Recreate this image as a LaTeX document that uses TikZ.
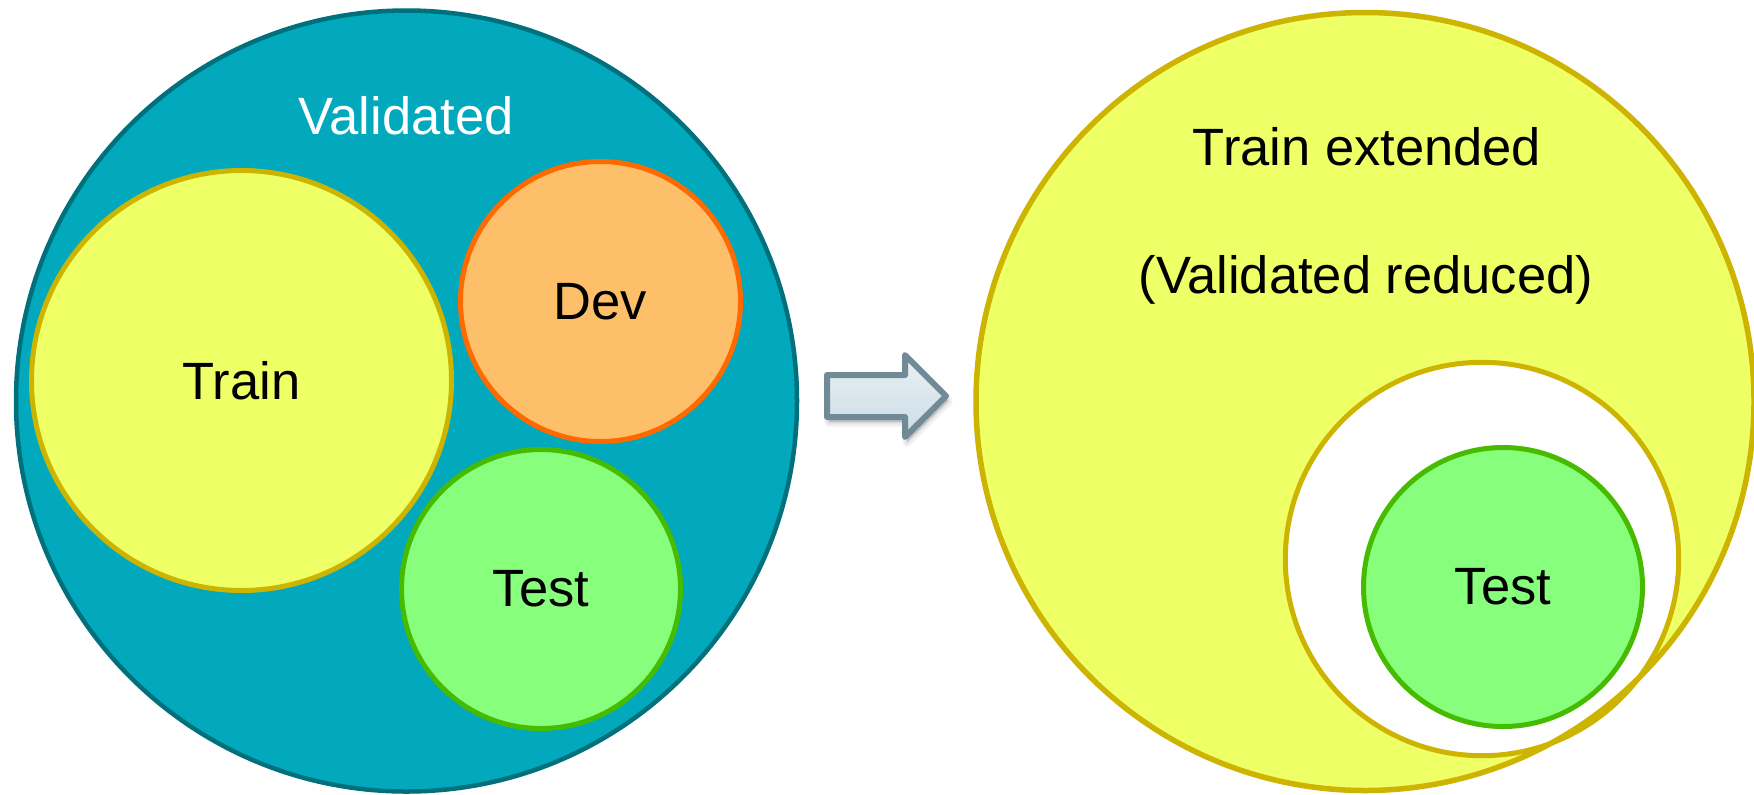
\documentclass[tikz,border=0pt]{standalone}
\usepackage{fontspec}
\setmainfont{Liberation Sans}
\definecolor{tealfill}{RGB}{2,169,189}
\definecolor{tealline}{RGB}{0,112,124}
\definecolor{yelfill}{RGB}{239,255,102}
\definecolor{yelline}{RGB}{205,180,0}
\definecolor{devfill}{RGB}{253,191,105}
\definecolor{devline}{RGB}{255,106,0}
\definecolor{testfill}{RGB}{136,255,124}
\definecolor{testline}{RGB}{70,187,0}
\definecolor{arrline}{RGB}{112,138,150}
\definecolor{arrtop}{RGB}{233,241,245}
\definecolor{arrbot}{RGB}{204,220,228}
\begin{document}
\begin{tikzpicture}[x=0.5pt,y=-0.5pt,
  lbl/.style={font=\fontsize{26.25}{31}\selectfont, text=black},
  disc/.style={circle, inner sep=0pt, outer sep=0pt, lbl},
  yeldisc/.style={disc, fill=yelfill, draw=yelline, line width=2.5pt},
  testdisc/.style={disc, minimum size=139.5pt, fill=testfill, draw=testline, line width=2.5pt},
  arrowshape/.style={line join=round}]
\useasboundingbox (0,0) rectangle (1754,794);
\clip (0,0) rectangle (1754,794);
\fill[white] (0,0) rectangle (1754,794);

% ---- left: Validated set ----
\node[disc, minimum size=390.5pt, fill=tealfill, draw=tealline, line width=2.25pt] (validated) at (406.5,401) {};
\node[lbl, text=white, anchor=base] (validatedlbl) at (406,134) {Validated};
\node[yeldisc, minimum size=210pt] (train) at (241.5,380.5) {Train};
\node[disc, minimum size=140pt, fill=devfill, draw=devline, line width=2.5pt] (dev) at (600.5,301.5) {Dev};
\node[testdisc] (testleft) at (541,589) {Test};

% ---- block arrow ----
\begin{scope}[shift={(2,5)}]
  \foreach \w in {10,7,4,1}
    \filldraw[black, opacity=0.035, line width=\w*0.5pt, arrowshape]
      (827,375) -- (905,375) -- (905,355) -- (946,396) -- (905,437) -- (905,417) -- (827,417) -- cycle;
\end{scope}
\shadedraw[top color=arrtop, bottom color=arrbot, draw=arrline, line width=3pt, arrowshape]
  (827,375) -- (905,375) -- (905,355) -- (946,396) -- (905,437) -- (905,417) -- (827,417) -- cycle;

% ---- right: Train extended ----
\node[disc, minimum size=389pt, fill=yelfill] (extended) at (1365,401.5) {};
\node[disc, minimum size=196.7pt, fill=white, draw=yelline, line width=2.5pt] (reduced) at (1482,559) {};
\node[disc, minimum size=389pt, draw=yelline, line width=2.75pt] (extendedrim) at (extended.center) {};
\node[testdisc] (testright) at (1503,587) {Test};
\node[lbl, anchor=base] (extlbl) at (1367,165.5) {Train extended};
\node[lbl, anchor=base] (redlbl) at (1366,293) {(Validated reduced)};
\end{tikzpicture}
\end{document}
